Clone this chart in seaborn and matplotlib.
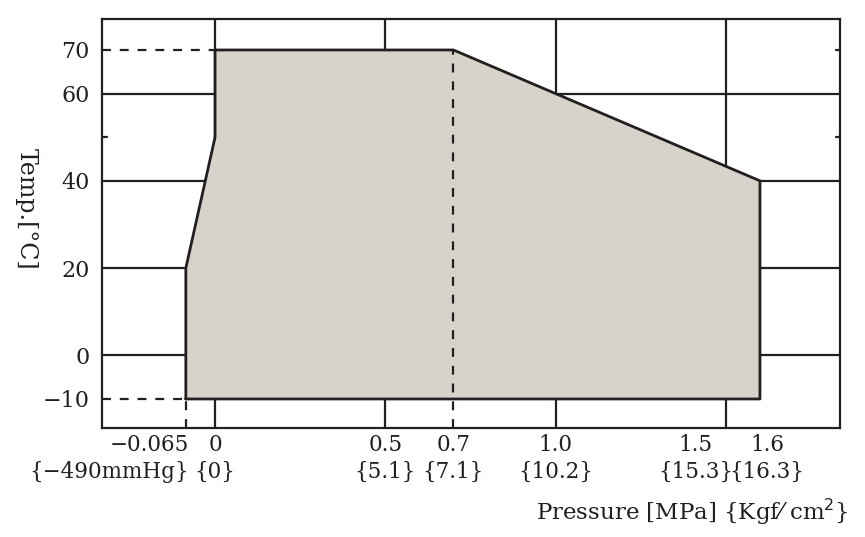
import numpy as np
import seaborn as sns
import matplotlib.pyplot as plt
from matplotlib.transforms import ScaledTranslation

# operating range outline (pressure MPa, temperature C)
pressure = [-0.065, -0.065, 0.0, 0.0, 0.7, 1.6, 1.6, -0.065]
temp = [-10, 20, 50, 70, 70, 40, -10, -10]

x_ticks = [-0.065, 0.0, 0.5, 0.7, 1.0, 1.5, 1.6]
x_labels = ["\u22120.065\n{\u2212490mmHg}", "0\n{0}", "0.5\n{5.1}", "0.7\n{7.1}",
            "1.0\n{10.2}", "1.5\n{15.3}", "1.6\n{16.3}"]
y_ticks = [-10, 0, 20, 40, 60, 70]
y_labels = ["\u221210", "0", "20", "40", "60", "70"]

grid_x = [0.0, 0.5, 1.0, 1.5]
grid_y = [0, 20, 40, 60]

INK = "#231f20"
FILL = "#d7d3ca"

sns.set_style("white")
plt.rcParams["font.family"] = ["DejaVu Serif"]


def fwd(x):
    x = np.asarray(x, dtype=float)
    return np.where(x < 0, x * 1.32, x)


def inv(x):
    x = np.asarray(x, dtype=float)
    return np.where(x < 0, x / 1.32, x)


fig = plt.figure(figsize=(8.65, 5.37), dpi=100)
ax = fig.add_axes([0.1179, 0.2030, 0.8532, 0.7616])
ax.set_xscale("function", functions=(fwd, inv))
ax.set_xlim(-0.2515, 1.835)
ax.set_ylim(-16.65, 77.1)

# solid grid
for gx in grid_x:
    ax.axvline(gx, color=INK, lw=1.6, zorder=1)
for gy in grid_y:
    ax.axhline(gy, color=INK, lw=1.6, zorder=1)

# shaded range
ax.fill(pressure, temp, color=FILL, zorder=2, lw=0)

# dashed guide lines
dash = (0, (4, 4))
ax.plot([-0.2515, 0.0], [70, 70], ls=dash, color=INK, lw=1.6, zorder=3)
ax.plot([-0.2515, -0.065], [-10, -10], ls=dash, color=INK, lw=1.6, zorder=3)
ax.plot([0.7, 0.7], [-16.65, 70], ls=dash, color=INK, lw=1.6, zorder=3)
ax.plot([-0.065, -0.065], [-16.65, -10], ls=dash, color=INK, lw=1.6, zorder=3)

# outline
sns.lineplot(x=pressure, y=temp, sort=False, estimator=None, color=INK,
             lw=2.0, ax=ax, zorder=4)

for s in ax.spines.values():
    s.set_color(INK)
    s.set_linewidth(1.6)
    s.set_visible(True)

ax.set_xticks(x_ticks)
ax.set_xticklabels(x_labels, fontsize=15.5, linespacing=1.3)
ax.set_yticks(y_ticks)
ax.set_yticklabels(y_labels, fontsize=16)
ax.tick_params(axis="both", length=0, colors=INK)
ax.tick_params(axis="y", pad=9)
ax.tick_params(axis="x", pad=4)
labels = ax.get_xticklabels()
labels[0].set_horizontalalignment("right")
labels[0].set_multialignment("right")
labels[0].set_transform(labels[0].get_transform() + ScaledTranslation(0.03, 0, fig.dpi_scale_trans))
labels[5].set_transform(labels[5].get_transform() + ScaledTranslation(-0.30, 0, fig.dpi_scale_trans))
labels[6].set_transform(labels[6].get_transform() + ScaledTranslation(0.07, 0, fig.dpi_scale_trans))

# small inner ticks
ax.plot([-0.2515, -0.24], [50, 50], color=INK, lw=1.6, zorder=5, clip_on=False)
for ty in [70, 50]:
    ax.plot([1.823, 1.835], [ty, ty], color=INK, lw=1.6, zorder=5, clip_on=False)

ax.set_ylabel("Temp.[\u00b0C]", fontsize=17, rotation=-90, color=INK)
ax.yaxis.set_label_coords(-0.118, 0.535)
fig.text(0.981, 0.046, "Pressure [MPa] {Kgf\u2044 cm$^{2}$}", ha="right", va="center",
         fontsize=16.5, color=INK)

fig.savefig("out.png", dpi=100)
